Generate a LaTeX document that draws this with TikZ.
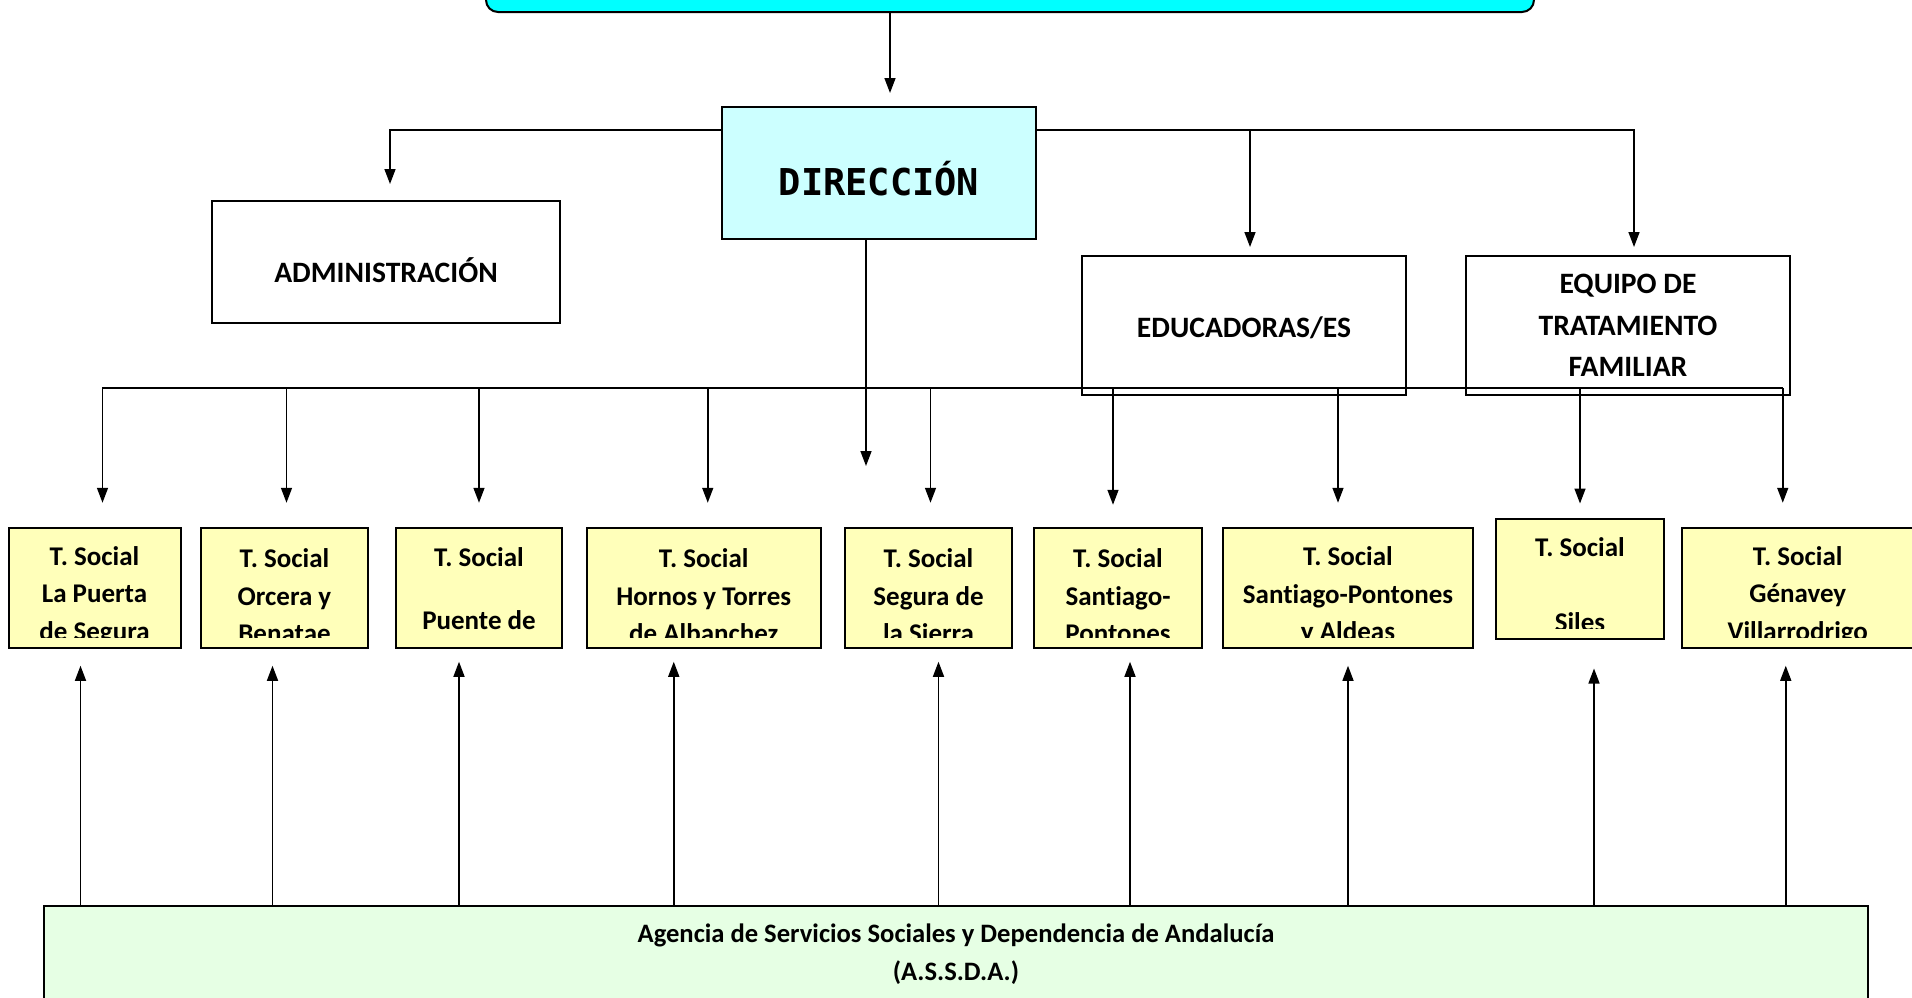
\documentclass[tikz,border=0pt]{standalone}
\usepackage{fontspec}
\setmainfont[Ligatures=NoCommon]{Carlito}
\newfontfamily\dirfont{DejaVu Sans Mono}
\usetikzlibrary{arrows.meta,positioning}

\definecolor{topcyan}{RGB}{0,255,255}
\definecolor{dircyan}{RGB}{204,255,255}
\definecolor{tsyellow}{RGB}{255,255,186}
\definecolor{asgreen}{RGB}{230,255,228}

\begin{document}
\begin{tikzpicture}[x=0.5pt,y=-0.5pt]
\tikzstyle{every node}+=[inner sep=0pt]
\tikzstyle{arr}=[-{Triangle[length=7.5pt,width=5.5pt]}, line width=0.75pt]
\tikzstyle{box}=[draw, line width=1pt, align=center, font=\bfseries\fontsize{14.8pt}{20.75pt}\selectfont]
\tikzset{tsdrop/.initial=-3.5pt,
  tsocial/.style={draw, line width=1pt, fill=tsyellow, minimum height=60pt,
  path picture={\clip ([yshift=5pt]path picture bounding box.south west) rectangle (path picture bounding box.north east);
  \node [anchor=north, align=center, font=\bfseries\fontsize{13.5pt}{18.75pt}\selectfont] at ([yshift=\pgfkeysvalueof{/tikz/tsdrop}]path picture bounding box.north) {#1};}}}
\useasboundingbox (0,0) rectangle (1912,997);
\clip (0,0) rectangle (1912,997);
% upper level
\node [draw, line width=1pt, fill=topcyan, rounded corners=6pt, minimum width=524pt, minimum height=30pt] (top) at (1010,-18) {};
\node [box, fill=dircyan, minimum width=157pt, minimum height=66pt, font=\dirfont\bfseries\fontsize{18.5pt}{22pt}\selectfont, text height=22pt, text depth=0pt] (dir) at (879,173) {DIRECCIÓN};
\node [box, minimum width=174pt, minimum height=61pt, text height=20pt, text depth=0pt] (adm) at (386,262) {ADMINISTRACIÓN};
\node [box, minimum width=162pt, minimum height=69.5pt, text height=13pt] (edu) at (1244,325.5) {EDUCADORAS/ES};
\node [box, minimum width=162pt, minimum height=69.5pt] (equipo) at (1628,325.5) {EQUIPO DE\\TRATAMIENTO\\FAMILIAR};
% trabajadores sociales
\node [tsocial={T. Social\\La Puerta\\de Segura}, minimum width=86pt] (ts1) at (94.5,587.75) {};
\node [tsocial={T. Social\\Orcera y\\Benatae}, minimum width=83.5pt] (ts2) at (284.5,587.75) {};
\node [tsdrop=0pt, tsocial={T. Social\\[13pt]Puente de}, minimum width=83pt] (ts3) at (479,587.75) {};
\node [tsocial={T. Social\\Hornos y Torres\\de Albanchez}, minimum width=117pt] (ts4) at (703.75,587.75) {};
\node [tsocial={T. Social\\Segura de\\la Sierra}, minimum width=83.5pt] (ts5) at (928.5,587.75) {};
\node [tsocial={T. Social\\Santiago-\\Pontones}, minimum width=84pt] (ts6) at (1118,587.75) {};
\node [tsocial={T. Social\\Santiago-Pontones\\y Aldeas}, minimum width=125pt] (ts7) at (1348,587.75) {};
\node [tsdrop=-2.5pt, tsocial={T. Social\\[18.75pt]Siles}, minimum width=84pt] (ts8) at (1580,578.5) {};
\node [tsocial={T. Social\\Génavey\\Villarrodrigo}, minimum width=116pt] (ts9) at (1797.75,587.75) {};
% agencia
\node [draw, line width=1pt, fill=asgreen, minimum width=912pt, minimum height=48pt, align=center, font=\bfseries\fontsize{13.3pt}{19pt}\selectfont] (agencia) at (956,954) {Agencia de Servicios Sociales y Dependencia de Andalucía\\(A.S.S.D.A.)};
% connectors
\draw [arr] ([xshift=5.5pt]dir.north |- top.south) -- ([xshift=5.5pt,yshift=6.5pt]dir.north);
\coordinate (hub) at (879,130);
\draw [arr] (dir.west |- hub) -| ([xshift=2pt,yshift=8pt]adm.north);
\draw [arr] (dir.east |- hub) -| ([xshift=3pt,yshift=4pt]equipo.north);
\draw [arr] ([xshift=3pt]edu.north |- hub) -- ([xshift=3pt,yshift=4pt]edu.north);
\coordinate (dirend) at (866,466);
\draw [arr] (dir.south -| dirend) -- (dirend);
\coordinate (busL) at (102,388);
\coordinate (busR) at (1783,388);
\draw [line width=0.75pt] (busL) -- (busR);
\draw [arr] ([xshift=4pt]ts1.north |- busL) -- ([xshift=4pt,yshift=12pt]ts1.north);
\draw [arr] ([xshift=1pt]ts2.north |- busL) -- ([xshift=1pt,yshift=12pt]ts2.north);
\draw [arr] (ts3.north |- busL) -- ([yshift=12pt]ts3.north);
\draw [arr] ([xshift=2pt]ts4.north |- busL) -- ([xshift=2pt,yshift=12pt]ts4.north);
\draw [arr] ([xshift=1pt]ts5.north |- busL) -- ([xshift=1pt,yshift=12pt]ts5.north);
\draw [arr] ([xshift=-2.5pt]ts6.north |- busL) -- ([xshift=-2.5pt,yshift=11pt]ts6.north);
\draw [arr] ([xshift=-5pt]ts7.north |- busL) -- ([xshift=-5pt,yshift=12pt]ts7.north);
\draw [arr] (ts8.north |- busL) -- ([yshift=7pt]ts8.north);
\draw [arr] ([xshift=-7.5pt]ts9.north |- busL) -- ([xshift=-7.5pt,yshift=12pt]ts9.north);
\draw [arr] ([xshift=-7pt]ts1.south |- agencia.north) -- ([xshift=-7pt,yshift=-8.5pt]ts1.south);
\draw [arr] ([xshift=-6pt]ts2.south |- agencia.north) -- ([xshift=-6pt,yshift=-8.5pt]ts2.south);
\draw [arr] ([xshift=-10pt]ts3.south |- agencia.north) -- ([xshift=-10pt,yshift=-6.5pt]ts3.south);
\draw [arr] ([xshift=-15pt]ts4.south |- agencia.north) -- ([xshift=-15pt,yshift=-6.5pt]ts4.south);
\draw [arr] ([xshift=5pt]ts5.south |- agencia.north) -- ([xshift=5pt,yshift=-6.5pt]ts5.south);
\draw [arr] ([xshift=6pt]ts6.south |- agencia.north) -- ([xshift=6pt,yshift=-6.5pt]ts6.south);
\draw [arr] (ts7.south |- agencia.north) -- ([yshift=-8.5pt]ts7.south);
\draw [arr] ([xshift=7pt]ts8.south |- agencia.north) -- ([xshift=7pt,yshift=-14.5pt]ts8.south);
\draw [arr] ([xshift=-6pt]ts9.south |- agencia.north) -- ([xshift=-6pt,yshift=-8.5pt]ts9.south);
\end{tikzpicture}
\end{document}
